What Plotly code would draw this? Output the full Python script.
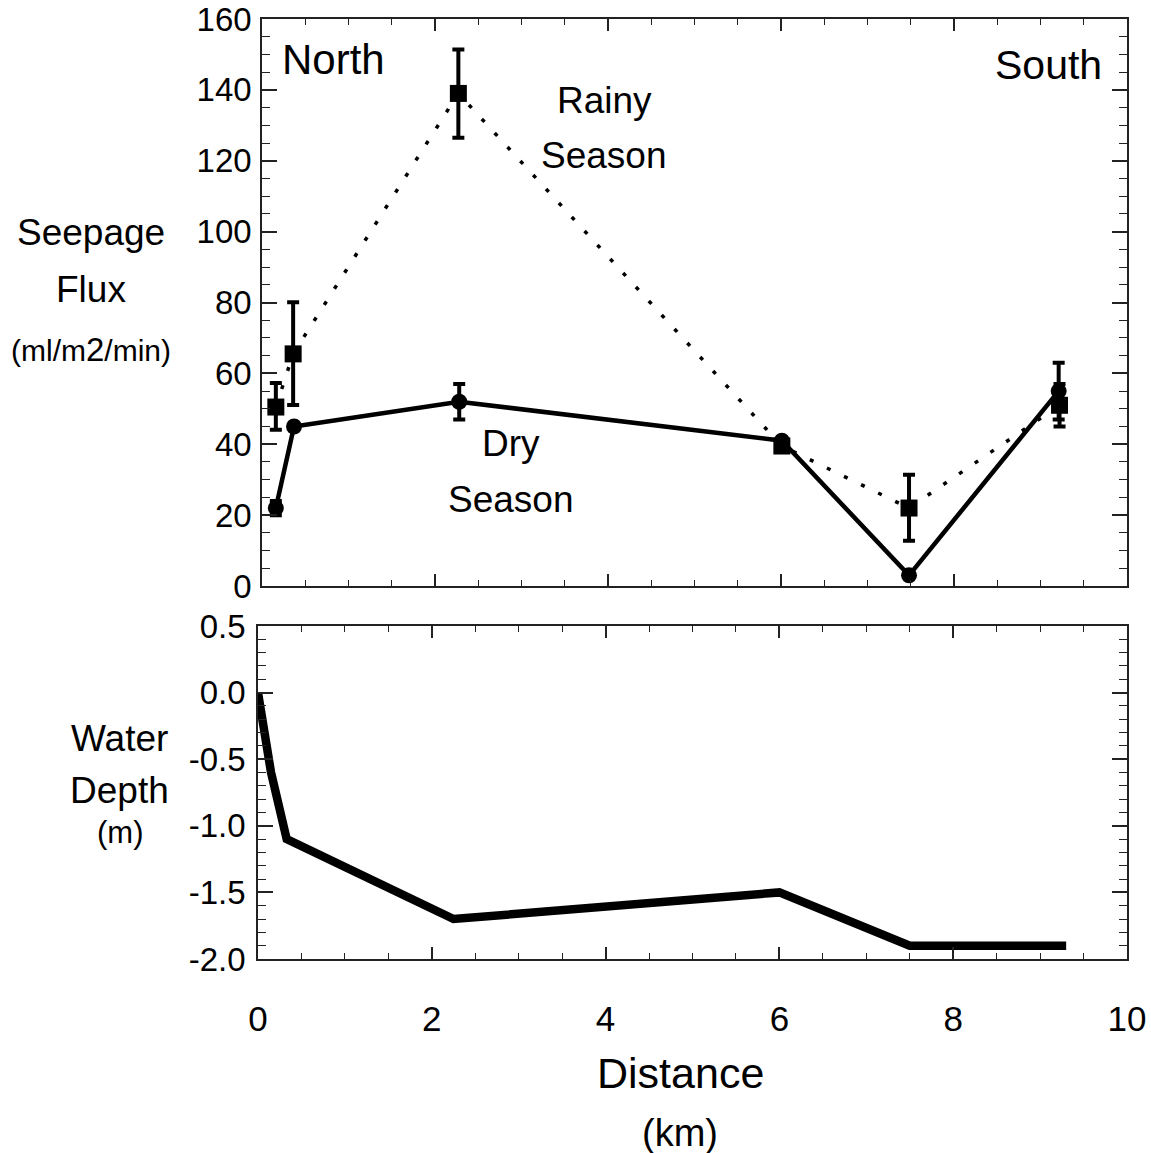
import plotly.graph_objects as go

# ---------------- data ----------------
dist_dry = [0.16, 0.37, 2.28, 6.01, 7.48, 9.21]
flux_dry = [22, 45, 52, 41, 3, 55]
err_dry_plus = [2, None, 5, None, None, 8]
err_dry_minus = [2, None, 5, None, None, 8]

dist_rainy = [0.16, 0.36, 2.27, 6.01, 7.48, 9.22]
flux_rainy = [50.5, 65.5, 139, 39.5, 22, 51]
err_rainy_plus = [6.8, 14.6, 12.4, None, 9.4, 6]
err_rainy_minus = [6.4, 14.4, 12.5, None, 9.2, 6]

dist_depth = [0.0, 0.15, 0.33, 2.25, 6.0, 7.5, 9.3]
water_depth = [0.0, -0.6, -1.1, -1.7, -1.5, -1.9, -1.9]

x_ticks = [0, 2, 4, 6, 8, 10]
flux_ticks = [0, 20, 40, 60, 80, 100, 120, 140, 160]
depth_ticks = [0.5, 0.0, -0.5, -1.0, -1.5, -2.0]
depth_tick_text = ["0.5", "0.0", "-0.5", "-1.0", "-1.5", "-2.0"]

# ---------------- layout helpers ----------------
W, H = 1151, 1153
FONT = "Liberation Sans, Arial, Helvetica, sans-serif"
FRAME = "#222222"


def px(x):
    return x / W


def py(y):
    return 1 - y / H


fig = go.Figure()

fig.add_trace(go.Scatter(
    x=dist_rainy, y=flux_rainy, mode="lines+markers",
    line=dict(color="black", width=3.5, dash="4px,15px"),
    marker=dict(symbol="square", size=17, color="black"),
    error_y=dict(type="data", array=err_rainy_plus, arrayminus=err_rainy_minus,
                 color="black", thickness=4, width=6),
    xaxis="x", yaxis="y", showlegend=False, cliponaxis=False,
))
fig.add_trace(go.Scatter(
    x=dist_dry, y=flux_dry, mode="lines+markers",
    line=dict(color="black", width=4.5),
    marker=dict(symbol="circle", size=16, color="black"),
    error_y=dict(type="data", array=err_dry_plus, arrayminus=err_dry_minus,
                 color="black", thickness=4, width=6),
    xaxis="x", yaxis="y", showlegend=False, cliponaxis=False,
))
fig.add_trace(go.Scatter(
    x=dist_depth, y=water_depth, mode="lines",
    line=dict(color="black", width=8.5),
    xaxis="x2", yaxis="y2", showlegend=False, cliponaxis=False,
))

axis_common = dict(showline=True, linecolor=FRAME, linewidth=1.5, mirror="ticks",
                   ticks="inside", tickcolor=FRAME, showgrid=False, zeroline=False,
                   automargin=False)

fig.update_layout(
    width=W, height=H,
    autosize=False,
    margin=dict(l=0, r=0, t=0, b=0, pad=0, autoexpand=False),
    paper_bgcolor="white", plot_bgcolor="white",
    font=dict(family=FONT, color="black"),
    xaxis=dict(domain=[px(262), px(1127)], range=[0, 10], anchor="y",
               tickvals=x_ticks, showticklabels=False, ticklen=12, tickwidth=1.5,
               minor=dict(dtick=0.5, ticklen=6, ticks="inside", tickcolor=FRAME, tickwidth=1.2),
               **axis_common),
    yaxis=dict(domain=[py(586), py(19)], range=[0, 160], anchor="x",
               tickvals=flux_ticks, ticklen=15, tickwidth=1.5,
               tickfont=dict(size=33, family=FONT), ticklabelstandoff=2,
               minor=dict(dtick=5, ticklen=8, ticks="inside", tickcolor=FRAME, tickwidth=1.2),
               **axis_common),
    xaxis2=dict(domain=[px(258), px(1127)], range=[0, 10], anchor="y2",
                tickvals=x_ticks, ticklen=12, tickwidth=1.5,
                tickfont=dict(size=35, family=FONT),
                ticklabelstandoff=28,
                minor=dict(dtick=0.5, ticklen=6, ticks="inside", tickcolor=FRAME, tickwidth=1.2),
                **axis_common),
    yaxis2=dict(domain=[py(959), py(626)], range=[-2.0, 0.5], anchor="x2",
                tickvals=depth_ticks, ticktext=depth_tick_text, ticklen=15, tickwidth=1.5,
                tickfont=dict(size=33, family=FONT), ticklabelstandoff=4,
                minor=dict(dtick=0.1, ticklen=8, ticks="inside", tickcolor=FRAME, tickwidth=1.2),
                **axis_common),
)

labels = [
    ("Seepage", 91, 232, 37),
    ("Flux", 91, 289, 37),
    ("(ml/m<span style='font-size:33px'>2</span>/min)", 91, 349, 30),
    ("Water", 120, 738, 37),
    ("Depth", 120, 790, 37),
    ("(m)", 120, 832, 31),
    ("North", 333, 60, 42),
    ("South", 1048, 65, 41),
    ("Rainy", 604, 100, 37),
    ("Season", 604, 156, 37),
    ("Dry", 511, 443, 37),
    ("Season", 511, 499, 37),
    ("Distance", 680, 1073, 43),
    ("(km)", 680, 1133, 38),
]
for text, x, y, size in labels:
    fig.add_annotation(text=text, x=px(x), y=py(y), xref="paper", yref="paper",
                       xanchor="center", yanchor="middle", showarrow=False,
                       font=dict(size=size, family=FONT, color="black"))

fig.write_html("out.html")
